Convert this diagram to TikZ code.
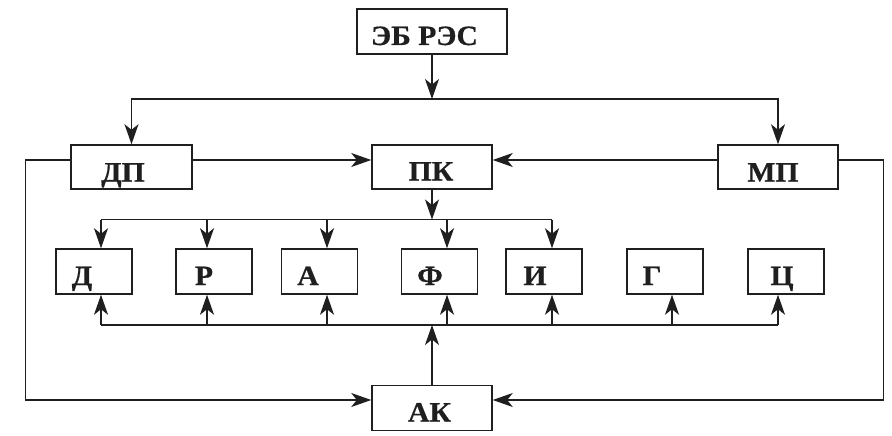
\documentclass[tikz,border=0pt]{standalone}
\usepackage{fontspec}
\setmainfont{Liberation Serif}[FakeStretch=1.06]
\newfontfamily\lblfont{Liberation Serif}[FakeStretch=1.06,BoldFeatures={FakeBold=0.6}]
\usetikzlibrary{arrows.meta}
\definecolor{ink}{gray}{0.12}
\begin{document}
\begin{tikzpicture}[x=1pt,y=-1pt,
  box/.style={draw=ink, line width=1.5pt, minimum height=45pt, inner sep=0pt},
  smallbox/.style={box, minimum width=76pt},
  bigbox/.style={box, minimum width=120pt},
  lbl/.style={font=\fontsize{28}{30}\lblfont\bfseries, text=ink, inner sep=0pt, anchor=base},
  conn/.style={draw=ink, line width=1.3pt},
  arr/.style={conn, -{Stealth[length=20pt,width=14pt,inset=5.5pt]}},
]
\useasboundingbox (0,0) rectangle (892,436);

% main boxes
\node[box, minimum width=150pt] (eb) at (432,31.5) {};
\node[bigbox, minimum height=44pt, minimum width=121pt] (dp) at (131.5,167) {};
\node[bigbox, minimum height=44pt] (pk) at (432,167) {};
\node[bigbox, minimum height=44pt] (mp) at (778,167) {};
\node[bigbox] (ak) at (432,408) {};

% small boxes
\node[smallbox] (d) at (94,271.5) {};
\node[smallbox] (r) at (214,271.5) {};
\node[smallbox] (a) at (319.5,271.5) {};
\node[smallbox] (f) at (439.5,271.5) {};
\node[smallbox] (i) at (544,271.5) {};
\node[smallbox] (g) at (665,271.5) {};
\node[smallbox] (c) at (786,271.5) {};

% labels
\node[lbl] (ebt) at (424.5,45) {ЭБ РЭС};
\node[lbl] (dpt) at (123,181.5) {ДП};
\node[lbl] (pkt) at (431,180.5) {ПК};
\node[lbl] (mpt) at (773,181.5) {МП};
\node[lbl] (akt) at (429.5,421.5) {АК};
\node[lbl] (dt) at (82,285) {Д};
\node[lbl] (rt) at (204,285) {Р};
\node[lbl] (at) at (308,285) {А};
\node[lbl] (ft) at (430,285) {Ф};
\node[lbl] (it) at (535,285) {И};
\node[lbl] (gt) at (652,285) {Г};
\node[lbl] (ct) at (782,285) {Ц};

% junction coordinates
\coordinate (j1) at (432,99);
\coordinate (tb) at (432,219.5);
\coordinate (t1) at (101,219.5);
\coordinate (t2) at (207,219.5);
\coordinate (t3) at (327,219.5);
\coordinate (t4) at (447,219.5);
\coordinate (t5) at (552,219.5);
\coordinate (bb) at (432,325);
\coordinate (b1) at (101,325);
\coordinate (b2) at (207,325);
\coordinate (b3) at (327,325);
\coordinate (b4) at (447,325);
\coordinate (b5) at (552,325);
\coordinate (b6) at (672,325);
\coordinate (b7) at (778,325);

% top distribution
\draw[arr] (eb.south) -- (j1);
\draw[arr] (j1) -| (dp.north);
\draw[arr] (j1) -| (mp.north);

% to PK
\draw[arr] ([yshift=7pt]dp.east) -- ([yshift=7pt]pk.west);
\draw[arr] ([yshift=7pt]mp.west) -- ([yshift=7pt]pk.east);

% side loops to AK
\draw[arr] ([yshift=7pt]dp.west) -- ++(-45,0) |- ([yshift=8pt]ak.west);
\draw[arr] ([yshift=7pt]mp.east) -- ++(45,0) |- ([yshift=8pt]ak.east);

% PK to upper bus
\draw[arr] (pk.south) -- (tb);
\draw[conn] (t1) -- (t5);
\draw[arr] (t1) -- (t1 |- d.north);
\draw[arr] (t2) -- (t2 |- r.north);
\draw[arr] (t3) -- (t3 |- a.north);
\draw[arr] (t4) -- (t4 |- f.north);
\draw[arr] (t5) -- (t5 |- i.north);

% AK to lower bus
\draw[arr] (ak.north) -- (bb);
\draw[conn] (b1) -- (b7);
\draw[arr] (b1) -- (b1 |- d.south);
\draw[arr] (b2) -- (b2 |- r.south);
\draw[arr] (b3) -- (b3 |- a.south);
\draw[arr] (b4) -- (b4 |- f.south);
\draw[arr] (b5) -- (b5 |- i.south);
\draw[arr] (b6) -- (b6 |- g.south);
\draw[arr] (b7) -- (b7 |- c.south);
\end{tikzpicture}
\end{document}
